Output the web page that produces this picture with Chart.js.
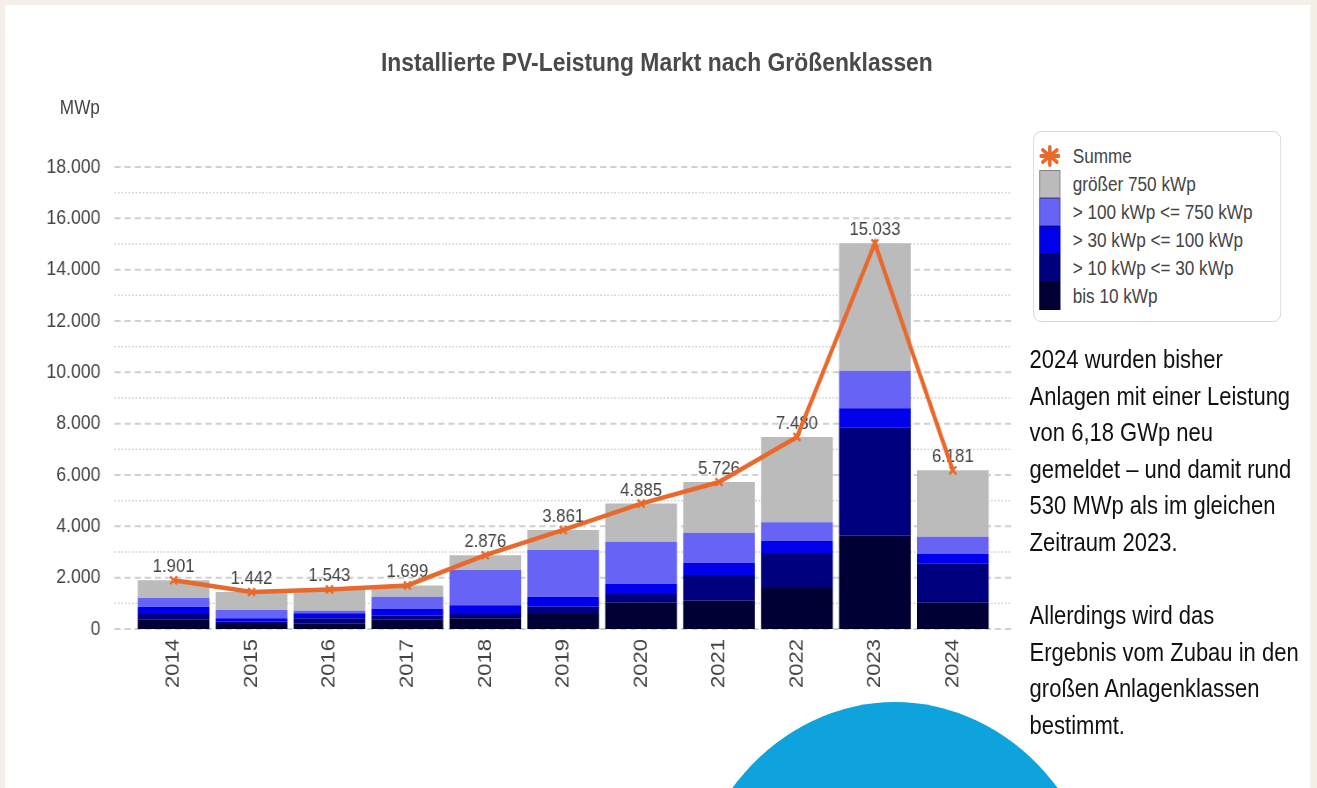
<!DOCTYPE html>
<html lang="de">
<head>
<meta charset="utf-8">
<title>Installierte PV-Leistung Markt nach Größenklassen</title>
<script src="https://cdn.jsdelivr.net/npm/chart.js@4.4.1/dist/chart.umd.min.js"></script>
<style>
  html, body { margin: 0; padding: 0; width: 1317px; height: 788px; overflow: hidden; background: #f4f0e8; }
  /* the reference is squeezed horizontally, so the whole stage is too */
  #stage { position: absolute; left: 0; top: 0; width: 1497px; height: 788px; transform: scaleX(0.88); transform-origin: 0 0;
           font-family: 'Liberation Sans', Arial, sans-serif; }
  #panel { position: absolute; left: 6px; top: 5px; width: 1483px; height: 800px; background: #fff; }
  #kreis { position: absolute; left: 775px; top: 702px; width: 484px; height: 484px; border-radius: 50%; background: #0ea3dd; }
  #chart { position: absolute; left: 0; top: 0; width: 1497px; height: 788px; }
  #titel { position: absolute; left: 0; top: 47px; width: 1493px; text-align: center; font-size: 26px; line-height: 30px; font-weight: bold; color: #4a4a4a; }
  #einheit { position: absolute; left: 68px; top: 95px; font-size: 19.5px; line-height: 24px; color: #444; }
  #legende { position: absolute; left: 1174px; top: 131px; width: 282px; height: 191px; box-sizing: border-box;
             border: 1.5px solid #d3d3d3; border-radius: 9px; padding-top: 10px; background: #fff; }
  .zeile { display: flex; align-items: center; height: 28px; font-size: 19.5px; color: #444; }
  .marker { margin-left: 6px; width: 24px; height: 28px; box-sizing: border-box; flex: none; }
  .zeile span { margin-left: 14px; white-space: nowrap; }
  #text { position: absolute; left: 1170px; top: 341px; font-size: 25px; line-height: 36.6px; color: #111; white-space: nowrap; }
</style>
</head>
<body>
<div id="stage">
  <div id="panel"></div>
  <div id="kreis"></div>
  <canvas id="chart" width="1497" height="788"></canvas>
  <div id="titel">Installierte PV-Leistung Markt nach Größenklassen</div>
  <div id="einheit">MWp</div>
  <div id="legende"></div>
  <div id="text">2024 wurden bisher<br>Anlagen mit einer Leistung<br>von 6,18 GWp neu<br>gemeldet – und damit rund<br>530 MWp als im gleichen<br>Zeitraum 2023.<br><br>Allerdings wird das<br>Ergebnis vom Zubau in den<br>großen Anlagenklassen<br>bestimmt.</div>
</div>
<script>
// Daten (MWp)
const jahre = ['2014', '2015', '2016', '2017', '2018', '2019', '2020', '2021', '2022', '2023', '2024'];
const summe = [1901, 1442, 1543, 1699, 2876, 3861, 4885, 5726, 7480, 15033, 6181];
const bis10 = [378, 195, 222, 378, 417, 584, 1025, 1103, 1597, 3635, 1025];
const kw10bis30 = [206, 90, 195, 140, 168, 284, 339, 1001, 1364, 4223, 1535];
const kw30bis100 = [284, 132, 195, 261, 339, 390, 390, 479, 468, 740, 362];
const kw100bis750 = [339, 323, 101, 479, 1375, 1819, 1648, 1169, 729, 1465, 674];
const ueber750 = [694, 702, 830, 441, 577, 784, 1483, 1974, 3322, 4970, 2585];

const FARBE_SUMME = '#e8692b';
const schrift = "'Liberation Sans', Arial, sans-serif";
const fmt = v => v.toLocaleString('de-DE');

// Gitterlinien: gestrichelt bei 2.000er Schritten, gepunktet dazwischen
const gitterPlugin = {
    id: 'gitter',
    beforeDatasetsDraw(chart) {
        const { ctx, chartArea, scales: { y } } = chart;
        ctx.save();
        for (let v = y.min; v <= y.max; v += 1000) {
            const py = y.getPixelForValue(v);
            const haupt = v % 2000 === 0;
            ctx.beginPath();
            ctx.setLineDash(haupt ? [7, 4.5] : [2, 2]);
            ctx.lineWidth = haupt ? 2 : 1.5;
            ctx.strokeStyle = haupt ? '#d0d0d0' : '#d4d4d4';
            ctx.moveTo(chartArea.left - 23, py);
            ctx.lineTo(chartArea.right + 23, py);
            ctx.stroke();
        }
        ctx.restore();
    }
};

// Werte über der Summenlinie (vor der Linie gezeichnet)
const wertePlugin = {
    id: 'werte',
    beforeDatasetDraw(chart, args) {
        if (args.index !== 0) return;
        const { ctx } = chart;
        ctx.save();
        ctx.font = `19px ${schrift}`;
        ctx.fillStyle = '#444';
        ctx.textAlign = 'center';
        ctx.textBaseline = 'alphabetic';
        args.meta.data.forEach((pt, i) => ctx.fillText(fmt(summe[i]), pt.x, pt.y - 8));
        ctx.restore();
    }
};

const balken = (label, data, farbe) => ({
    label, data, backgroundColor: farbe, borderWidth: 0, stack: 'klassen', order: 1
});

const chart = new Chart(document.getElementById('chart'), {
    type: 'bar',
    data: {
        labels: jahre,
        datasets: [
            {
                type: 'line', label: 'Summe', data: summe, stack: 'summe', order: 0,
                borderColor: FARBE_SUMME, backgroundColor: FARBE_SUMME, borderWidth: 4.5,
                pointStyle: 'crossRot', pointRadius: 5.5, pointBorderWidth: 2.5, tension: 0
            },
            balken('bis 10 kWp', bis10, '#000035'),
            balken('> 10 kWp <= 30 kWp', kw10bis30, '#00007f'),
            balken('> 30 kWp <= 100 kWp', kw30bis100, '#0000ea'),
            balken('> 100 kWp <= 750 kWp', kw100bis750, '#6663f5'),
            balken('größer 750 kWp', ueber750, '#bbbbbb')
        ]
    },
    options: {
        responsive: false,
        animation: false,
        layout: { padding: { left: 0, top: 167, right: 370, bottom: 79 } },
        datasets: { bar: { categoryPercentage: 1, barPercentage: 0.92 } },
        scales: {
            x: {
                stacked: true,
                grid: { display: false, drawTicks: false },
                border: { display: false },
                ticks: { color: '#444', font: { family: schrift, size: 22 }, minRotation: 90, maxRotation: 90, padding: 10 },
                afterFit(s) { s.height = 80; }
            },
            y: {
                stacked: true,
                min: 0,
                max: 18000,
                grid: { display: false, drawTicks: false },
                border: { display: false },
                ticks: { stepSize: 2000, color: '#444', font: { family: schrift, size: 20 }, padding: 39, callback: v => fmt(v) },
                afterFit(s) { s.width = 153; }
            }
        },
        plugins: { legend: { display: false }, tooltip: { enabled: false } }
    },
    plugins: [gitterPlugin, wertePlugin]
});

// Legende: Summe, dann Klassen von oben nach unten
const legende = document.getElementById('legende');
const ds = chart.data.datasets;
[ds[0]].concat(ds.slice(1).reverse()).forEach(d => {
    const zeile = document.createElement('div');
    zeile.className = 'zeile';
    const marker = document.createElement('div');
    marker.className = 'marker';
    if (d.type === 'line') {
        marker.innerHTML = '<svg width="24" height="28" viewBox="0 0 24 28"><g stroke="' + d.borderColor +
            '" stroke-width="4" stroke-linecap="round"><line x1="4" y1="8" x2="20" y2="20"/><line x1="20" y1="8" x2="4" y2="20"/>' +
            '<line x1="12" y1="5" x2="12" y2="23"/><line x1="2" y1="14" x2="22" y2="14"/></g></svg>';
    } else {
        marker.style.background = d.backgroundColor;
        marker.style.border = '1px solid rgba(0,0,0,0.3)';
    }
    const text = document.createElement('span');
    text.textContent = d.label;
    zeile.appendChild(marker);
    zeile.appendChild(text);
    legende.appendChild(zeile);
});
</script>
</body>
</html>
